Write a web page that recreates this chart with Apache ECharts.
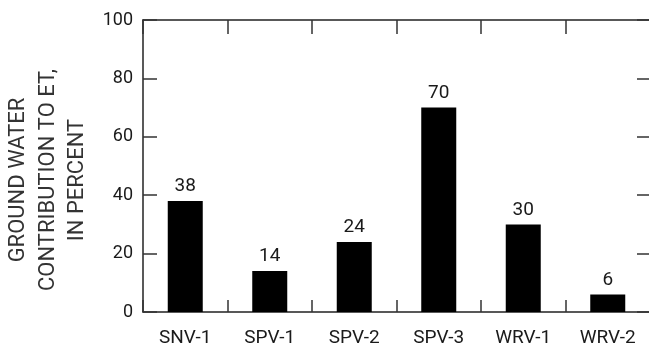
<!DOCTYPE html>
<html>
<head>
<meta charset="utf-8">
<style>
  html, body { margin: 0; padding: 0; background: #fff; }
  #chart { width: 649px; height: 343px; }
</style>
<script src="https://cdn.jsdelivr.net/npm/echarts@6/dist/echarts.min.js"></script>
</head>
<body>
<div id="chart"></div>
<script>
// Sites and the share of evapotranspiration supplied by ground water
const sites = ['SNV-1', 'SPV-1', 'SPV-2', 'SPV-3', 'WRV-1', 'WRV-2'];
const groundWaterPct = [38, 14, 24, 70, 30, 6];
const yTicks = [0, 20, 40, 60, 80, 100];
const yTitle = 'GROUND WATER\nCONTRIBUTION TO ET,\nIN PERCENT';

const font = 'Roboto, "Liberation Sans", sans-serif';
const ink = '#1a1a1a';

const chart = echarts.init(document.getElementById('chart'), null, { renderer: 'canvas' });

const tickStyle = { color: '#333', width: 1.5 };
const frameStyle = { color: '#222', width: 1.5 };

// Frame axis: line drawn on its own side of the plot, ticks pointing inwards
function frameAxis(len) {
  return {
    axisLine: { show: true, onZero: false, lineStyle: frameStyle },
    axisTick: { show: true, inside: true, length: len, lineStyle: tickStyle },
    splitLine: { show: false }
  };
}

chart.setOption({
  animation: false,
  backgroundColor: '#fff',
  grid: { left: 143, top: 20, width: 507, height: 292, outerBoundsMode: 'none' },
  xAxis: [
    Object.assign(frameAxis(12), {
      type: 'category',
      data: sites,
      position: 'bottom',
      axisLabel: { color: ink, fontFamily: font, fontSize: 19, margin: 17 }
    }),
    Object.assign(frameAxis(14), {
      type: 'category',
      data: sites,
      position: 'top',
      axisLabel: { show: false }
    })
  ],
  yAxis: [
    Object.assign(frameAxis(14), {
      type: 'value',
      min: yTicks[0],
      max: yTicks[yTicks.length - 1],
      interval: yTicks[1] - yTicks[0],
      position: 'left',
      axisLabel: { color: ink, fontFamily: font, fontSize: 18, margin: 10 }
    }),
    Object.assign(frameAxis(13), {
      type: 'value',
      min: yTicks[0],
      max: yTicks[yTicks.length - 1],
      interval: yTicks[1] - yTicks[0],
      position: 'right',
      axisLabel: { show: false }
    })
  ],
  graphic: [
    {
      type: 'text',
      x: 48,
      y: 180,
      rotation: Math.PI / 2,
      style: {
        text: yTitle,
        fontFamily: font,
        fontSize: 22,
        lineHeight: 29.5,
        fill: '#333',
        textAlign: 'center',
        textVerticalAlign: 'middle'
      }
    }
  ],
  series: [
    {
      type: 'bar',
      xAxisIndex: 0,
      yAxisIndex: 0,
      data: groundWaterPct,
      barWidth: 35,
      itemStyle: { color: '#000' },
      label: {
        show: true,
        position: 'top',
        distance: 5,
        color: ink,
        fontFamily: font,
        fontSize: 19
      }
    }
  ]
});
</script>
</body>
</html>
